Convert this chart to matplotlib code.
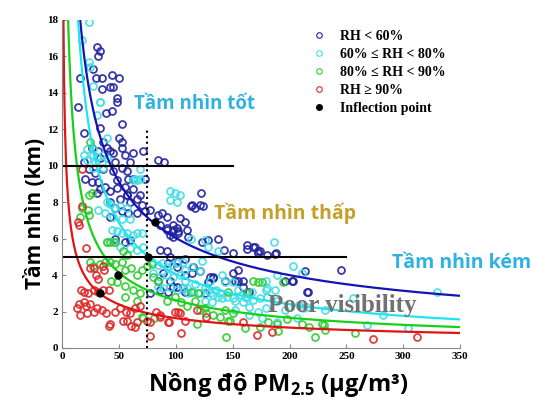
import numpy as np
import matplotlib
matplotlib.use("Agg")
import matplotlib.pyplot as plt
from matplotlib.lines import Line2D

plt.rcParams['font.family'] = ['Open Sans', 'DejaVu Sans']
plt.rcParams['mathtext.fontset'] = 'custom'
plt.rcParams['mathtext.rm'] = 'Open Sans'
plt.rcParams['mathtext.bf'] = 'Open Sans:bold'

# scatter points (PM2.5, visibility km)
blue_x = [31, 33, 32, 27, 16, 30, 35, 44, 50, 35, 42, 45, 48, 48, 14, 39, 44, 33, 53, 19,
          50, 53, 53, 36, 40, 26, 32, 42, 45, 33, 47, 55, 62, 60, 71, 84, 90, 19, 24, 20,
          29, 26, 36, 45, 53, 57, 58, 62, 73, 48, 122, 31, 57, 69,
          32, 38, 33, 42, 48, 55, 62, 57, 51, 42, 60, 66, 70, 47, 53, 42, 58, 66, 73, 77,
          84, 88, 92, 86, 92, 98, 101, 95, 102, 110, 47, 55, 60,
          86, 92, 95, 102, 108, 89, 95, 101, 108, 84, 77,
          114, 121, 104, 108, 98, 92, 102, 98, 111, 123, 128, 137, 142, 150, 163, 168, 172, 180,
          115, 121, 128, 133, 143, 150, 155, 159, 93, 101, 108, 98, 106, 86, 93,
          113, 117, 124, 170, 172, 187, 163, 196, 202, 214, 215, 155, 152, 159, 164, 130, 133,
          126, 114, 188, 174, 203, 216, 245]
blue_y = [16.5, 16.3, 16.0, 15.3, 14.8, 14.8, 14.8, 15.0, 14.8, 14.2, 14.3, 14.3, 13.7, 13.5,
          13.2, 12.9, 13.0, 12.1, 12.3, 11.8, 11.5, 11.3, 11.0, 11.3, 11.0, 11.0, 10.8, 10.8,
          10.7, 10.4, 10.2, 10.6, 10.7, 10.2, 10.8, 10.3, 10.2, 10.2, 9.8, 9.3, 9.6, 9.1, 9.8,
          9.7, 9.9, 9.7, 9.3, 9.3, 9.3, 9.2, 8.5, 8.5, 8.4, 8.4,
          9.1, 8.85, 8.7, 8.6, 8.8, 8.85, 8.7, 8.4, 8.2, 8.0, 8.0, 8.2, 7.85, 7.7, 7.5, 7.2,
          7.4, 7.4, 7.5, 7.6, 7.3, 7.4, 7.2, 6.75, 6.6, 6.5, 6.6, 6.2, 6.3, 6.5, 6.0, 5.8, 5.9,
          5.4, 5.3, 5.0, 4.8, 4.9, 4.1, 3.7, 3.35, 3.1, 3.7, 3.0,
          7.85, 7.85, 7.15, 6.9, 6.75, 6.5, 6.4, 6.1, 6.1, 5.8, 5.9, 6.0, 5.4, 5.2, 5.65, 5.55,
          5.2, 5.1, 4.45, 4.2, 3.6, 3.85, 3.7, 4.1, 3.7, 3.35, 4.65, 4.45, 4.0, 3.35, 3.3, 3.2, 3.1,
          7.8, 7.7, 7.8, 5.55, 5.3, 5.15, 5.45, 3.7, 3.7, 4.2, 3.1, 4.3, 3.7, 3.7, 3.1, 3.9, 3.9,
          3.0, 4.1, 5.2, 5.3, 3.7, 3.1, 4.3]

cyan_x = [24, 27, 33, 31, 40, 18, 24, 25, 33,
          22, 27, 19, 27, 31, 36, 22, 29, 35, 40, 69, 27, 36, 64, 69, 62, 66,
          40, 42, 47, 51, 57, 32, 38, 45, 53, 60, 44, 48, 53, 57, 62, 66, 70,
          40, 45, 51, 60, 66, 71,
          79, 84, 88, 92, 97, 101, 106, 80, 86, 92, 98, 104, 84, 89, 95, 101, 106,
          95, 99, 104, 95, 101,
          110, 115, 121, 128, 133, 139, 145, 150, 157, 163, 168, 174, 180,
          113, 126, 128, 137, 186, 203, 211, 179, 167,
          123, 108, 114, 121, 130, 141, 143, 150, 155, 161, 108, 117, 126, 135, 137, 126, 132,
          141, 152, 159, 164, 172, 179, 189, 196, 208, 215, 164, 152, 111, 130,
          189, 179, 180, 187, 256, 268, 282, 304, 330, 207, 189, 176, 212, 231]
cyan_y = [17.9, 14.4, 13.5, 12.8, 11.5, 16.9, 15.7, 15.4, 13.5,
          10.9, 10.9, 10.6, 10.6, 10.5, 10.6, 10.3, 10.2, 10.2, 10.4, 9.8, 9.9, 9.9, 9.3, 9.3,
          9.2, 9.2,
          8.0, 7.9, 7.7, 7.8, 7.7, 7.6, 7.4, 7.2, 7.1, 7.1, 6.5, 6.4, 6.3, 6.3, 6.2, 6.3, 6.3,
          5.8, 5.8, 5.55, 5.5, 5.4, 5.55,
          4.7, 4.55, 4.65, 4.45, 4.55, 4.65, 4.7, 4.1, 3.9, 4.0, 3.9, 4.0, 3.35, 3.3, 3.35, 3.2,
          3.3, 8.6, 8.5, 8.4, 8.1, 8.0,
          3.3, 3.1, 3.0, 3.2, 2.9, 3.0, 2.8, 2.75, 2.9, 2.75, 2.65, 2.75, 2.8,
          6.0, 5.9, 5.55, 5.3, 5.8, 4.5, 4.1, 3.2, 3.1,
          4.8, 4.3, 4.45, 4.2, 3.7, 4.0, 3.6, 3.6, 3.2, 2.8, 3.7, 3.5, 3.3, 3.2, 2.8, 2.6, 2.5,
          2.75, 2.6, 2.5, 2.25, 2.0, 2.2, 2.6, 2.1, 2.35, 2.25, 1.8, 2.1, 3.0, 3.0,
          4.0, 3.7, 3.3, 3.2, 2.75, 1.25, 1.8, 1.1, 3.1, 1.65, 1.4, 1.65, 2.2, 2.1]

green_x = [25, 24, 26, 18, 23, 24, 16, 40, 42, 47, 54, 57,
           25, 27, 33, 38, 42, 47, 53, 55, 61, 66, 70, 75, 79, 80, 84,
           43, 48, 55, 62, 69, 55, 66,
           92, 99, 105, 110, 117, 121, 127, 133, 139, 148, 71, 81, 70, 144, 119,
           172, 168, 194, 198, 211, 217, 222, 229, 231, 258, 174, 181, 189, 190,
           176, 113, 120, 146, 163, 126, 143, 150, 146, 161, 230]
green_y = [11.3, 8.4, 8.5, 7.7, 7.6, 7.3, 7.2, 5.8, 5.8, 5.8, 5.3, 5.1,
           4.7, 4.5, 4.6, 4.7, 4.7, 4.6, 4.7, 4.3, 4.4, 4.0, 4.3, 4.5, 4.6, 3.9, 3.7,
           3.7, 3.6, 3.4, 3.2, 3.0, 2.8, 2.6,
           2.6, 2.8, 2.5, 2.3, 2.6, 2.1, 1.9, 1.8, 1.7, 1.5, 1.65, 1.65, 1.7, 0.6, 1.3,
           3.6, 3.7, 3.6, 1.6, 1.3, 1.15, 0.6, 1.3, 1.0, 0.8, 1.15, 1.4, 1.3, 0.95,
           3.6, 3.1, 3.0, 3.1, 3.0, 2.2, 2.1, 1.9, 1.5, 1.1, 1.25]

red_x = [18, 18, 14, 15, 21, 25, 28, 36, 37, 30, 32,
         17, 19, 23, 28, 32, 36, 41,
         13, 15, 19, 21, 25, 31, 16, 22, 28, 35, 39, 47, 51, 56, 60, 64, 69,
         42, 57, 61, 66, 75, 83, 86, 94, 99, 104, 77, 77, 41, 64, 54, 93, 105, 102, 119,
         127, 86, 185, 273, 312, 171, 159, 108]
red_y = [9.8, 7.8, 6.9, 6.75, 5.5, 4.4, 4.4, 4.5, 4.3, 4.0, 3.8,
         3.2, 3.1, 3.0, 3.2, 3.1, 3.2, 3.2,
         2.2, 2.4, 2.5, 2.3, 2.4, 2.2, 1.8, 1.9, 2.0, 2.1, 1.9, 2.0, 2.2, 2.0, 1.9, 2.2, 2.3,
         1.3, 1.5, 1.2, 1.4, 1.5, 2.0, 1.7, 1.4, 2.0, 1.9, 0.65, 1.4, 1.2, 1.15, 1.5, 1.4, 0.8,
         2.0, 2.1, 1.7, 1.8, 0.9, 0.5, 0.6, 0.7, 1.4, 1.5]

# power-law fits V = a * PM^b, coefficients estimated from the curves
fit_a = [94.0, 134.5, 54.8, 20.5]
fit_b = [-0.596, -0.76, -0.66, -0.549]

infl_x = [33, 49, 76, 82]
infl_y = [3.0, 4.0, 5.0, 6.9]

labels = ['RH < 60%', '60% ≤ RH < 80%', '80% ≤ RH < 90%', 'RH ≥ 90%', 'Inflection point']
pt_colors = ['#2424a0', '#44dde6', '#33cc33', '#dd2a2a']
line_colors = ['#1414b4', '#22e4ee', '#18d018', '#e01414']

fig = plt.figure(figsize=(5.33, 4.03), dpi=100)
ax = fig.add_axes([0.1163, 0.1365, 0.747, 0.8139])

series = [(blue_x, blue_y), (cyan_x, cyan_y), (green_x, green_y), (red_x, red_y)]
for (sx, sy), c in zip(series, pt_colors):
    ax.plot(sx, sy, 'o', mfc='none', mec=c, ms=5, mew=1.3, alpha=0.9)

xx = np.linspace(0.5, 350, 800)
for a, b, c in zip(fit_a, fit_b, line_colors):
    ax.plot(xx, a * xx ** b, color=c, lw=1.6)

ax.plot(infl_x, infl_y, 'o', color='black', ms=5)

ax.plot([0, 150], [10, 10], color='black', lw=1.5)
ax.plot([0, 250], [5, 5], color='black', lw=1.5)
ax.plot([75, 75], [0, 12], color='black', lw=1.5, ls=':')

ax.set_xlim(0, 350)
ax.set_ylim(0, 18)
ax.set_xticks(range(0, 351, 50))
ax.set_yticks(range(0, 19, 2))
for s in ['top', 'right']:
    ax.spines[s].set_visible(False)
for s in ['left', 'bottom']:
    ax.spines[s].set_color('#888888')
ax.tick_params(direction='in', length=3, color='#888888', pad=3)
for lab in ax.get_xticklabels() + ax.get_yticklabels():
    lab.set_fontfamily('Liberation Serif')
    lab.set_fontweight('bold')
    lab.set_fontsize(8)

handles = [Line2D([], [], ls='none', marker='o', mfc='none', mec=c, ms=4, mew=0.8)
           for c in pt_colors]
handles.append(Line2D([], [], ls='none', marker='o', color='black', ms=4))
ax.legend(handles, labels, loc='upper left', bbox_to_anchor=(0.628, 0.969),
          frameon=False, handlelength=1.0, handletextpad=1.0, labelspacing=0.36,
          borderpad=0, borderaxespad=0,
          prop={'family': 'Liberation Serif', 'weight': 'bold', 'size': 10})

ax.text(63, 13.1, 'Tầm nhìn tốt', color='#2fb2e2', fontsize=13.5, fontweight='bold',
        zorder=5)
ax.text(134, 7.1, 'Tầm nhìn thấp', color='#c4a02a', fontsize=14, fontweight='bold',
        zorder=5)
ax.text(290, 4.4, 'Tầm nhìn kém', color='#2fb2e2', fontsize=14, fontweight='bold',
        clip_on=False, zorder=5)
ax.text(181, 2.0, 'Poor visibility', color='#727272', fontsize=18, fontweight='bold',
        family='Liberation Serif', zorder=5)

fig.text(0.066, 0.47, 'Tầm nhìn (km)', rotation=90, ha='center', va='center',
         fontsize=15, fontweight='bold')
fig.text(0.522, 0.045, r'Nồng độ PM$_{\mathbf{2.5}}$ (μg/m³)', ha='center', va='center',
         fontsize=17, fontweight='bold')

fig.savefig('out.png', dpi=100)
